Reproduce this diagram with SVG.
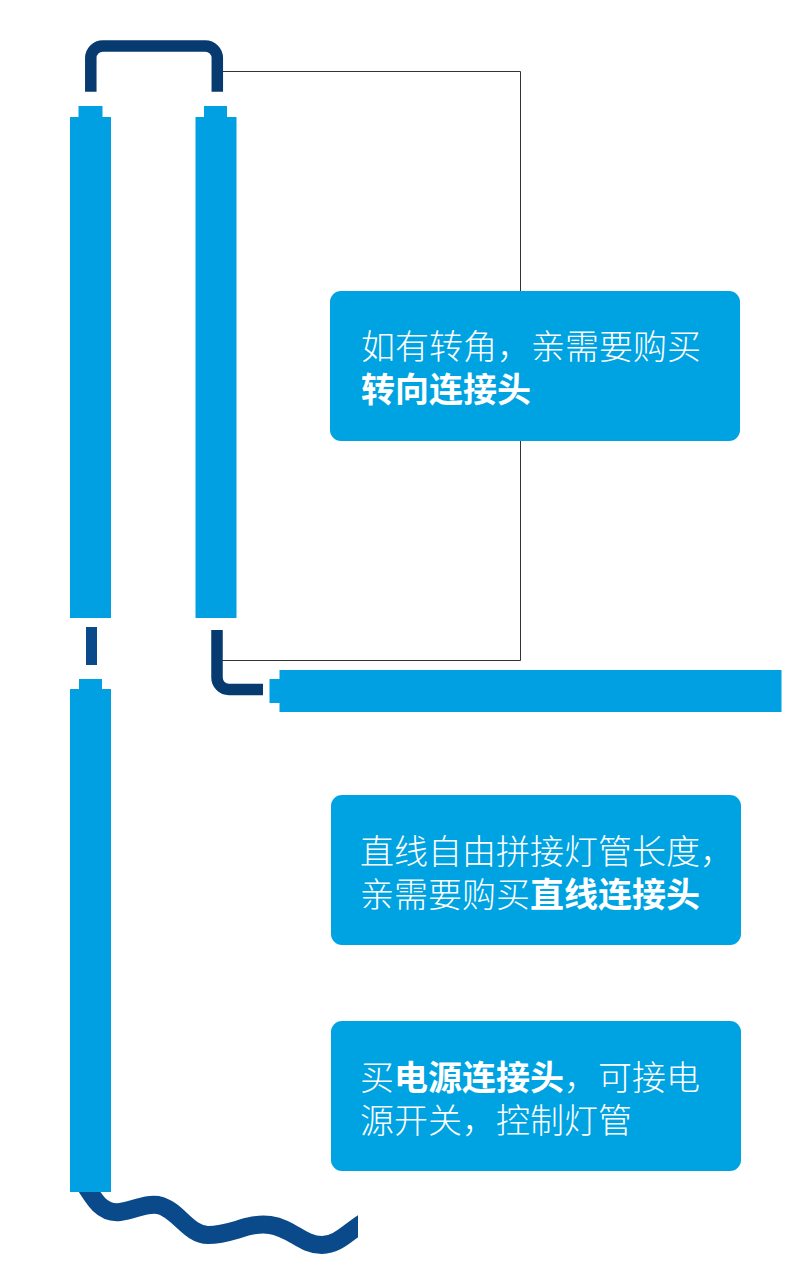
<svg xmlns="http://www.w3.org/2000/svg" width="800" height="1282" viewBox="0 0 800 1282">
<style>
.tube{fill:#00a0e2}
.box{fill:#00a3e2}
.conn{fill:none;stroke:#073b70;stroke-width:11.5}
.conn2{fill:none;stroke:#0b4a8a}
.lead{fill:none;stroke:#333;stroke-width:1}
.t{font-family:"Noto Sans CJK SC","Noto Sans",sans-serif;font-size:34px;font-weight:300;fill:#ffffff}
.b{font-weight:bold}
</style>
<defs>
<clipPath id="wclip"><rect x="0" y="1150" width="358" height="132"/></clipPath>
</defs>
<rect width="800" height="1282" fill="#ffffff"/>
<g id="connectors">
<polyline class="lead" points="222,71.5 520.5,71.5 520.5,660.5 222,660.5"/>
<path class="conn" d="M90.8,91.7 V58 A12,12 0 0 1 102.8,46 H205.3 A12,12 0 0 1 217.3,58 V91.7"/>
<path class="conn" d="M217,630 V677.5 A12,12 0 0 0 229,689.5 H263"/>
<rect x="86" y="627" width="11" height="38" fill="#0b4a8a"/>
<path class="conn2" clip-path="url(#wclip)" stroke-width="18" d="M82,1180 C94,1200 102,1214 120,1212 C135,1210 145,1203 158,1205 C178,1209 188,1235 208,1235 C232,1235 248,1222 270,1225 C292,1228 302,1245 322,1245 C338,1245 348,1232 364,1222"/>
</g>
<g id="tube-left-top">
<rect class="tube" x="78.5" y="106" width="24" height="12"/>
<rect class="tube" x="70" y="117" width="41" height="501"/>
</g>
<g id="tube-right-top">
<rect class="tube" x="204" y="106" width="23" height="12"/>
<rect class="tube" x="195.5" y="117" width="41" height="501"/>
</g>
<g id="tube-left-bottom">
<rect class="tube" x="79" y="679" width="23" height="11"/>
<rect class="tube" x="70" y="689" width="41" height="503"/>
</g>
<g id="tube-horizontal">
<rect class="tube" x="269.5" y="679" width="11" height="24"/>
<rect class="tube" x="279.5" y="670" width="502" height="42"/>
</g>
<g id="box-corner">
<rect class="box" x="330" y="291" width="410" height="150" rx="11"/>
<text class="t" x="361" y="359">如有转角，亲需要购买</text>
<text class="t b" x="361" y="402">转向连接头</text>
</g>
<g id="box-straight">
<rect class="box" x="331" y="795" width="410" height="150" rx="11"/>
<text class="t" x="360" y="864">直线自由拼接灯管长度，</text>
<text class="t" x="360" y="907">亲需要购买<tspan class="b">直线连接头</tspan></text>
</g>
<g id="box-power">
<rect class="box" x="331" y="1021" width="410" height="150" rx="11"/>
<text class="t" x="360" y="1090">买<tspan class="b">电源连接头</tspan>，可接电</text>
<text class="t" x="360" y="1133">源开关，控制灯管</text>
</g>
</svg>
